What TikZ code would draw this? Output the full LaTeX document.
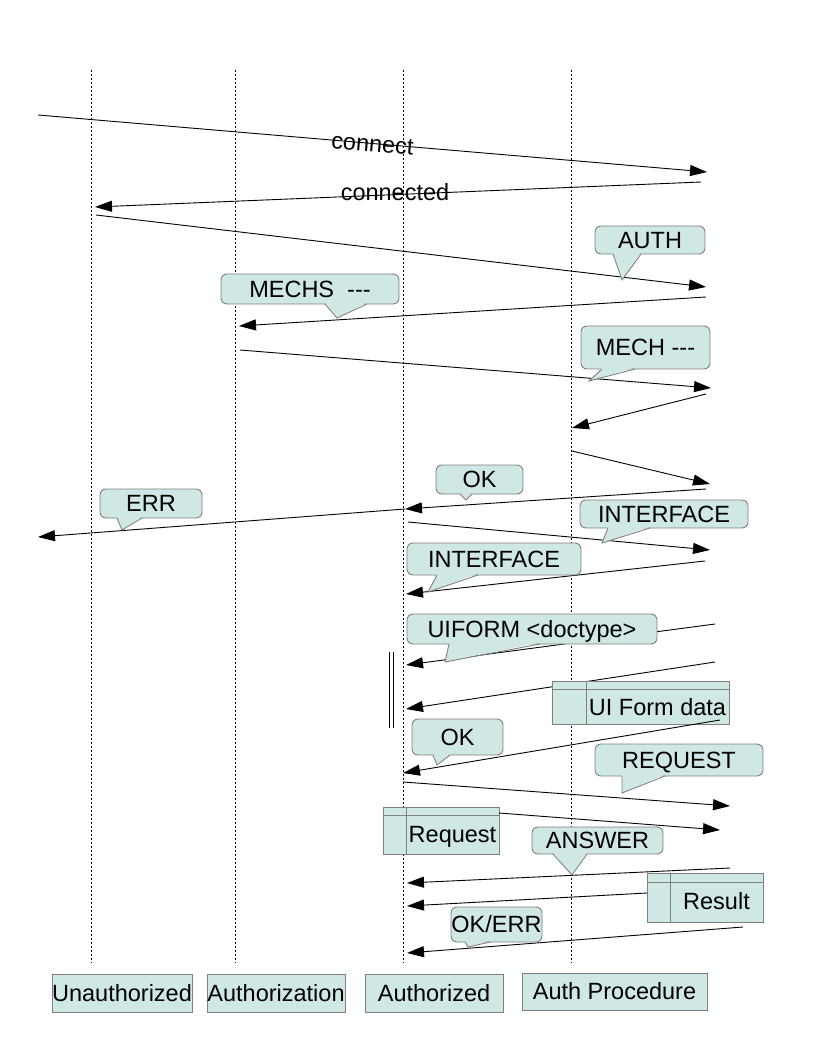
\documentclass[tikz,border=0pt]{standalone}
\usepackage{fontspec}
\setmainfont{Liberation Sans}
\usetikzlibrary{arrows.meta}
\definecolor{paleteal}{RGB}{207,231,229}
\definecolor{bordergray}{RGB}{128,128,128}
% pointer of a speech bubble: base from #1 to #2 on the bottom edge #3, tip at (#4,#5)
\newcommand\bubbletail[5]{%
  \fill[paleteal] (#1,#3-1.6) -- (#4,#5) -- (#2,#3-1.6) -- cycle;
  \draw[bordergray, line width=0.9pt] (#1,#3) -- (#4,#5) -- (#2,#3);}
\begin{document}
\begin{tikzpicture}[x=1pt,y=-1pt,
  every node/.style={font=\fontsize{23.5}{28}\selectfont, text height=16.8pt, text depth=0pt, inner sep=0pt},
  msg/.style={draw=black, line width=0.9pt, -{Triangle[length=17pt,width=11pt]}},
  life/.style={draw=black, line width=0.8pt, dash pattern=on 2pt off 2pt},
  bubble/.style={draw=bordergray, fill=paleteal, line width=0.9pt, rounded corners=6pt},
  databox/.style={draw=bordergray, fill=paleteal, line width=0.9pt},
  state/.style={draw=bordergray, fill=paleteal, line width=0.9pt},
  divider/.style={draw=bordergray, line width=0.9pt},
]
\useasboundingbox (0,0) rectangle (816,1056);

% lifelines
\coordinate (uatop) at (91.5,70);  \coordinate (uabot) at (91.5,963);
\coordinate (aztop) at (235.5,70); \coordinate (azbot) at (235.5,963);
\coordinate (adtop) at (403.5,70); \coordinate (adbot) at (403.5,963);
\coordinate (aptop) at (571.5,70); \coordinate (apbot) at (571.5,963);
\draw[life] (uatop) -- (uabot);
\draw[life] (aztop) -- (azbot);
\draw[life] (adtop) -- (adbot);
\draw[life] (aptop) -- (apbot);

% message end points
\coordinate (m1s) at (38,115);   \coordinate (m1e) at (707,172);
\coordinate (m2s) at (701,182);  \coordinate (m2e) at (95,207);
\coordinate (m3s) at (96,215);   \coordinate (m3e) at (706,287);
\coordinate (m4s) at (706,297);  \coordinate (m4e) at (239,326);
\coordinate (m5s) at (240,350);  \coordinate (m5e) at (711,388);
\coordinate (m6s) at (706,394);  \coordinate (m6e) at (572,428);
\coordinate (m7s) at (572,451);  \coordinate (m7e) at (710,484);
\coordinate (m8s) at (706,489);  \coordinate (m8e) at (405,509);
\coordinate (m9e) at (38,537);
\coordinate (m10s) at (408,522); \coordinate (m10e) at (710,550);
\coordinate (m11s) at (705,561); \coordinate (m11e) at (406,594);
\coordinate (m12s) at (715,624); \coordinate (m12e) at (406,665);
\coordinate (m13s) at (715,662); \coordinate (m13e) at (406,709);
\coordinate (m14s) at (720,720); \coordinate (m14e) at (403,773);
\coordinate (m15s) at (403,782); \coordinate (m15e) at (730,806);
\coordinate (m16s) at (499,813); \coordinate (m16e) at (720,830);
\coordinate (m17s) at (730,868); \coordinate (m17e) at (407,883);
\coordinate (m18s) at (647,893); \coordinate (m18e) at (407,906);
\coordinate (m19s) at (743,927); \coordinate (m19e) at (407,953);

% messages
\draw[msg] (m1s) -- node[sloped, midway] (tconnect) {connect} (m1e);
\draw[msg] (m2s) -- (m2e);
\node (tconnected) at (395,192) {connected};
\draw[msg] (m3s) -- (m3e);
\draw[msg] (m4s) -- (m4e);
\draw[msg] (m5s) -- (m5e);
\draw[msg] (m6s) -- (m6e);
\draw[msg] (m7s) -- (m7e);
\draw[msg] (m8s) -- (m8e);
\draw[msg] (m8e) -- (m9e);
\draw[msg] (m10s) -- (m10e);
\draw[msg] (m11s) -- (m11e);
\draw[msg] (m12s) -- (m12e);
\draw[msg] (m13s) -- (m13e);
\draw[msg] (m15s) -- (m15e);
\draw[msg] (m17s) -- (m17e);
\draw[msg] (m19s) -- (m19e);

% blocking bar
\coordinate (bar1t) at (389,652); \coordinate (bar1b) at (389,728);
\coordinate (bar2t) at (393,652); \coordinate (bar2b) at (393,728);
\draw[line width=0.9pt] (bar1t) -- (bar1b);
\draw[line width=0.9pt] (bar2t) -- (bar2b);

% speech bubbles
\node[bubble, minimum width=110pt, minimum height=28pt] (auth) at (650,240) {AUTH};
\bubbletail{613}{641}{254}{622}{280}
\node[bubble, minimum width=178pt, minimum height=30pt] (mechs) at (310,289) {MECHS\ \ -{}-{}-};
\bubbletail{325}{367}{304}{337}{318}
\node[bubble, minimum width=129pt, minimum height=43pt] (mech) at (645.5,347.5) {MECH -{}-{}-};
\bubbletail{602}{635}{369}{589}{381}
\node[bubble, minimum width=87pt, minimum height=29pt] (okone) at (479.5,479.5) {OK};
\bubbletail{460}{472}{494}{466}{500}
\node[bubble, minimum width=102pt, minimum height=29pt] (err) at (151,503.5) {ERR};
\bubbletail{117}{142}{518}{122}{530}
\node[bubble, minimum width=168pt, minimum height=28pt] (ifright) at (664,514) {INTERFACE};
\bubbletail{608}{650}{528}{602}{543}
\node[bubble, minimum width=174pt, minimum height=32pt] (ifleft) at (494,559) {INTERFACE};
\bubbletail{437}{478}{575}{428}{592}
\node[bubble, minimum width=250pt, minimum height=30pt] (uiform) at (532,629) {UIFORM <doctype>};
\bubbletail{449}{540}{644}{445}{662}
\node[bubble, minimum width=91pt, minimum height=36pt] (oktwo) at (457.5,737) {OK};
\bubbletail{433}{450}{755}{437}{765}
\node[bubble, minimum width=168pt, minimum height=32pt] (request) at (679,760) {REQUEST};
\bubbletail{622}{665}{776}{622}{793}
\node[bubble, minimum width=131pt, minimum height=27pt] (answer) at (597.5,840.5) {ANSWER};
\bubbletail{553}{587}{854}{572}{875}
\node[bubble, minimum width=91pt, minimum height=35pt] (okerr) at (496.5,924.5) {OK/ERR};
\bubbletail{465}{490}{942}{468}{947}

% data boxes
\node[databox, minimum width=177pt, minimum height=43pt] (uidata) at (640.5,702.5) {};
\draw[divider] (586,681) -- (586,724);
\draw[divider] (552,689) -- (729,689);
\node (uidatatext) at (657.5,707) {UI Form data};

\node[databox, minimum width=116pt, minimum height=47pt] (reqdata) at (441,830.5) {};
\draw[divider] (406,807) -- (406,854);
\draw[divider] (383,815) -- (499,815);
\node (reqdatatext) at (452.5,834) {Request};

\node[databox, minimum width=116pt, minimum height=49pt] (result) at (705,897.5) {};
\draw[divider] (670,873) -- (670,922);
\draw[divider] (647,882) -- (763,882);
\node (resulttext) at (716.5,901) {Result};

% messages leaving the data boxes
\draw[msg] (m14s) -- (m14e);
\draw[msg] (m16s) -- (m16e);
\draw[msg] (m18s) -- (m18e);

% states
\node[state, minimum width=140pt, minimum height=38pt] (unauth) at (122,993) {Unauthorized};
\node[state, minimum width=138pt, minimum height=38pt] (authz) at (276,993) {Authorization};
\node[state, minimum width=138pt, minimum height=38pt] (authd) at (434,993) {Authorized};
\node[state, minimum width=185pt, minimum height=37pt] (authproc) at (614.5,991.5) {Auth Procedure};
\end{tikzpicture}
\end{document}
